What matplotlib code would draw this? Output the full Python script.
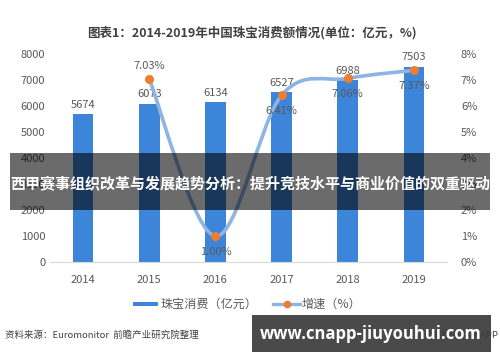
import matplotlib
matplotlib.use("Agg")
import matplotlib.pyplot as plt
from matplotlib.path import Path
from matplotlib.patches import PathPatch, Rectangle
from matplotlib.lines import Line2D

plt.rcParams['font.family'] = ['Noto Sans CJK SC', 'DejaVu Sans']

years = ["2014", "2015", "2016", "2017", "2018", "2019"]
sales = [5674, 6073, 6134, 6527, 6988, 7503]
growth_years = [1, 2, 3, 4, 5]          # positions of 2015..2019
growth = [7.03, 1.00, 6.41, 7.06, 7.37]
growth_labels = ["7.03%", "1.00%", "6.41%", "7.06%", "7.37%"]
left_ticks = [0, 1000, 2000, 3000, 4000, 5000, 6000, 7000, 8000]
right_ticks = [0, 1, 2, 3, 4, 5, 6, 7, 8]

BAR = "#3d85d8"
LINE = "#8db4e2"
DOT = "#ed7d31"
TXT = "#595959"

fig = plt.figure(figsize=(5.0, 3.62), dpi=100)
ax = fig.add_axes([0.1, 0.276, 0.794, 0.575])
x = list(range(len(years)))
ax.bar(x, sales, width=0.31, color=BAR, zorder=2)
for xi, v in zip(x, sales):
    ax.text(xi, v + 180, str(v), ha="center", va="bottom", fontsize=8, color=TXT, zorder=5)

ax.set_xlim(-0.5, 5.5)
ax.set_ylim(0, 8000)
ax.set_yticks(left_ticks)
ax.set_xticks(x)
ax.set_xticklabels(years)
ax.tick_params(length=0, labelsize=8, colors=TXT)
ax.tick_params(axis="x", pad=9)
for s in ["top", "right", "left"]:
    ax.spines[s].set_visible(False)
ax.spines["bottom"].set_color("#d9d9d9")

ax2 = ax.twinx()
ax2.set_ylim(0, 8)
ax2.set_yticks(right_ticks)
ax2.set_yticklabels([f"{t}%" for t in right_ticks])
ax2.tick_params(length=0, labelsize=8, colors=TXT, pad=10)
for s in ax2.spines.values():
    s.set_visible(False)

# smooth curve through the growth points (Catmull-Rom -> Bezier)
pts = list(zip(growth_years, growth))
verts = [pts[0]]
codes = [Path.MOVETO]
for i in range(len(pts) - 1):
    p0 = pts[max(i - 1, 0)]
    p1 = pts[i]
    p2 = pts[i + 1]
    p3 = pts[min(i + 2, len(pts) - 1)]
    c1 = (p1[0] + (p2[0] - p0[0]) / 6, p1[1] + (p2[1] - p0[1]) / 6)
    c2 = (p2[0] - (p3[0] - p1[0]) / 6, p2[1] - (p3[1] - p1[1]) / 6)
    verts += [c1, c2, p2]
    codes += [Path.CURVE4] * 3
ax2.add_patch(PathPatch(Path(verts, codes), fill=False, edgecolor=LINE, lw=2.6,
                        capstyle="round", zorder=3))
ax2.plot(growth_years, growth, "o", color=DOT, ms=5.5, zorder=4)

offsets = [0.5, -0.6, -0.6, -0.6, -0.6]
for xi, v, lab, off in zip(growth_years, growth, growth_labels, offsets):
    ax2.text(xi, v + off, lab, ha="center", va="center", fontsize=8, color=TXT, zorder=5)

fig.text(0.504, 0.909, "图表1：2014-2019年中国珠宝消费额情况(单位：亿元，%)",
         ha="center", va="center", fontsize=9, fontweight="bold", color="#404040")

# legend
fig.patches.append(Rectangle((133 / 500, 1 - 306 / 362), 25 / 500, 4 / 362,
                             transform=fig.transFigure, facecolor=BAR, lw=0))
fig.text(160 / 500, 1 - 304 / 362, "珠宝消费（亿元）", ha="left", va="center",
         fontsize=8.7, color=TXT)
fig.lines.append(Line2D([273 / 500, 300 / 500], [1 - 304 / 362] * 2,
                        transform=fig.transFigure, color=LINE, lw=2.4))
fig.lines.append(Line2D([287 / 500], [1 - 304 / 362], transform=fig.transFigure,
                        marker="o", color=DOT, ms=4.5))
fig.text(302 / 500, 1 - 304 / 362, "增速（%）", ha="left", va="center",
         fontsize=8.7, color=TXT)

fig.text(5 / 500, 1 - 335 / 362, "资料来源：Euromonitor  前瞻产业研究院整理", ha="left",
         va="center", fontsize=6.8, color="#404040")
fig.text(499 / 500, 1 - 335 / 362, "前瞻经济学人APP", ha="right", va="center",
         fontsize=6.8, color="#404040")

# overlay banner
fig.patches.append(Rectangle((10 / 500, 1 - 210 / 362), 480 / 500, 57 / 362,
                             transform=fig.transFigure, facecolor="black", lw=0,
                             alpha=0.58, zorder=10))
fig.text(250 / 500, 1 - 183 / 362, "西甲赛事组织改革与发展趋势分析：提升竞技水平与商业价值的双重驱动",
         ha="center", va="center", fontsize=10.8, fontweight="bold", color="white", zorder=11)

# url box
fig.patches.append(Rectangle((252 / 500, 1 - 352 / 362), 239 / 500, 37 / 362,
                             transform=fig.transFigure, facecolor="#3c3c3c", lw=0,
                             alpha=0.93, zorder=10))
fig.text(371 / 500, 1 - 334 / 362, "www.cnapp-jiuyouhui.com", ha="center", va="center",
         fontsize=12, fontweight="bold", color="white", family=["Open Sans", "DejaVu Sans"],
         zorder=11)

fig.savefig("out.png", dpi=100)
